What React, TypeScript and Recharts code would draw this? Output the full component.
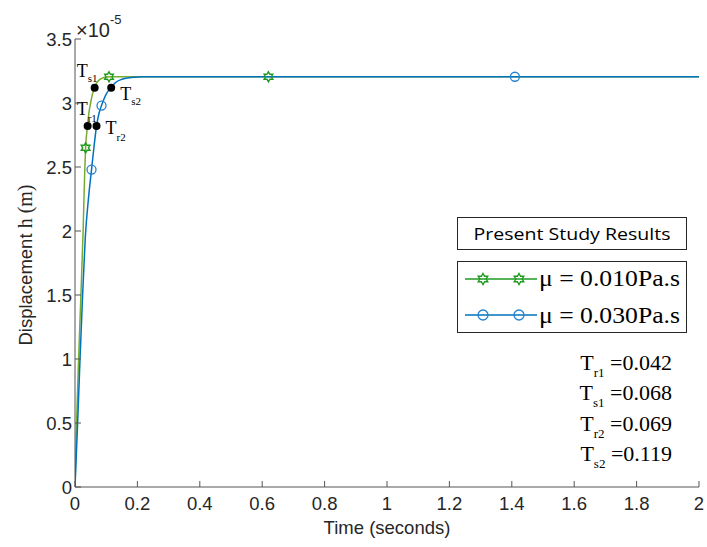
import React from 'react';
import { ComposedChart, Line, Scatter, XAxis, YAxis, Customized } from 'recharts';

// displacement in units of 1e-5 m, time in seconds
const timeLow = [0, 0.005, 0.0116, 0.019, 0.026, 0.031, 0.034, 0.04, 0.045, 0.05, 0.055, 0.062, 0.07, 0.08, 0.09, 0.1, 0.12, 0.15, 0.2, 2];
const dispLow = [0, 0.5, 1.0, 1.5, 2.0, 2.45, 2.65, 2.82, 2.93, 3.0, 3.06, 3.12, 3.16, 3.185, 3.197, 3.203, 3.205, 3.205, 3.205, 3.205];

const timeHigh = [0, 0.0084, 0.0161, 0.0244, 0.033, 0.043, 0.053, 0.061, 0.069, 0.077, 0.085, 0.1, 0.115, 0.13, 0.15, 0.18, 0.22, 0.3, 2];
const dispHigh = [0, 0.5, 1.0, 1.5, 1.95, 2.25, 2.48, 2.66, 2.82, 2.92, 2.98, 3.07, 3.12, 3.16, 3.185, 3.2, 3.205, 3.205, 3.205];

// marker positions along each curve
const starTimes = [0.034, 0.109, 0.62];
const starDisp = [2.65, 3.205, 3.205];
const circleTimes = [0.053, 0.085, 1.41];
const circleDisp = [2.48, 2.98, 3.205];

// rise / settling time points
const markNames = ['r1', 'r2', 's1', 's2'];
const markTimes = [0.0405, 0.069, 0.063, 0.116];
const markDisp = [2.82, 2.82, 3.12, 3.12];

const resultNames = ['r1', 's1', 'r2', 's2'];
const resultValues = ['0.042', '0.068', '0.069', '0.119'];

const xTicks = [0, 0.2, 0.4, 0.6, 0.8, 1, 1.2, 1.4, 1.6, 1.8, 2];
const yTicks = [0, 0.5, 1, 1.5, 2, 2.5, 3, 3.5];

const seriesNames = ['μ = 0.010Pa.s', 'μ = 0.030Pa.s'];

const zip = (t: number[], y: number[]) => t.map((v, i) => ({ t: v, y: y[i] }));
const lowData = zip(timeLow, dispLow);
const highData = zip(timeHigh, dispHigh);
const starData = zip(starTimes, starDisp);
const circleData = zip(circleTimes, circleDisp);
const markData = markTimes.map((v, i) => ({ t: v, y: markDisp[i], name: markNames[i] }));

const AXIS = '#555';
const INK = '#262626';
const GREEN = '#77AC30';
const STAR = '#1f9a1f';
const BLUE = '#0072BD';
const CIRCLE = '#2382d2';
const SANS = 'Liberation Sans, Arial, sans-serif';
const SERIF = 'Liberation Serif, Times New Roman, serif';

// label placement around the black dots: [dx of T, dy of T baseline, sub dy]
const labelOffsets: Record<string, [number, number, number]> = {
  r1: [-11, -11, 7],
  r2: [9, 8, 7],
  s1: [-18, -11, 5],
  s2: [9, 12, 5],
};

function Hexagram({ cx, cy, r = 5, color = STAR }: any) {
  const pts = [];
  for (let k = 0; k < 12; k++) {
    const a = (-90 + k * 30) * Math.PI / 180;
    const rad = k % 2 === 0 ? r : r * 0.58;
    pts.push(`${cx + rad * Math.cos(a)},${cy + rad * Math.sin(a)}`);
  }
  return <polygon points={pts.join(' ')} fill="none" stroke={color} strokeWidth={1.4} />;
}

function OpenCircle({ cx, cy, r = 4.5 }: any) {
  return <circle cx={cx} cy={cy} r={r} fill="none" stroke={CIRCLE} strokeWidth={1.3} />;
}

function MarkDot({ cx, cy, payload }: any) {
  const [dx, dy, sub] = labelOffsets[payload.name];
  return (
    <g>
      <circle cx={cx} cy={cy} r={4} fill="#000" />
      <text x={cx + dx} y={cy + dy} fontFamily={SERIF} fontSize={18} fill="#000">
        T<tspan fontSize={11} dy={sub}>{payload.name}</tspan>
      </text>
    </g>
  );
}

const fmt = (v: number) => String(v);

function BottomTick({ x, y, payload }: any) {
  return (
    <g>
      <line x1={x} x2={x} y1={y} y2={y - 6} stroke={AXIS} />
      <text x={x} y={y + 23} textAnchor="middle" fontFamily={SANS} fontSize={18.5} fill={INK}>{fmt(payload.value)}</text>
    </g>
  );
}

function TopTick({ x, y }: any) {
  return <line x1={x} x2={x} y1={y} y2={y + 6} stroke={AXIS} />;
}

function LeftTick({ x, y, payload }: any) {
  return (
    <g>
      <line x1={x} x2={x + 6} y1={y} y2={y} stroke={AXIS} />
      <text x={x - 3} y={y + 6.5} textAnchor="end" fontFamily={SANS} fontSize={18.5} fill={INK}>{fmt(payload.value)}</text>
    </g>
  );
}

function RightTick({ x, y }: any) {
  return <line x1={x} x2={x - 6} y1={y} y2={y} stroke={AXIS} />;
}

function Overlay() {
  return (
    <g>
      {/* exponent */}
      <text x={76} y={37} fontFamily={SANS} fontSize={20} fill={INK}>
        ×10<tspan fontSize={13} dy={-13}>-5</tspan>
      </text>
      {/* axis titles */}
      <text transform="translate(32,265) rotate(-90)" textAnchor="middle" fontFamily={SANS} fontSize={18.5} fill={INK}>
        Displacement  <tspan fontFamily={SERIF} fontSize={20}>h (m)</tspan>
      </text>
      <text x={387} y={534} textAnchor="middle" fontFamily={SANS} fontSize={18.5} fill={INK}>Time (seconds)</text>

      {/* legend */}
      <rect x={457.5} y={217.5} width={229} height={32} fill="#fff" stroke={INK} />
      <text x={572} y={240} textAnchor="middle" fontFamily="Open Sans, sans-serif" fontSize={16.5} fill="#000"
        textLength={197} lengthAdjust="spacingAndGlyphs">Present Study Results</text>
      <rect x={457.5} y={261.5} width={229} height={71} fill="#fff" stroke={INK} />
      <line x1={465} x2={537} y1={279} y2={279} stroke={STAR} strokeWidth={1.3} />
      <Hexagram cx={483} cy={279} r={5.5} />
      <Hexagram cx={519} cy={279} r={5.5} />
      <text x={539} y={286} fontFamily={SERIF} fontSize={23} fill="#000" textLength={141} lengthAdjust="spacingAndGlyphs">{seriesNames[0]}</text>
      <line x1={465} x2={537} y1={315} y2={315} stroke={BLUE} strokeWidth={1.3} />
      <OpenCircle cx={483} cy={315} r={5} />
      <OpenCircle cx={519} cy={315} r={5} />
      <text x={539} y={323} fontFamily={SERIF} fontSize={23} fill="#000" textLength={141} lengthAdjust="spacingAndGlyphs">{seriesNames[1]}</text>

      {/* rise / settling times */}
      {resultNames.map((n, i) => (
        <text key={n} x={672} y={370 + i * 30.3} textAnchor="end" fontFamily={SERIF} fontSize={22} fill="#000">
          T<tspan fontSize={13} dy={7}>{n}</tspan><tspan dy={-7}> =</tspan>{resultValues[i]}
        </text>
      ))}
    </g>
  );
}

export default function App() {
  return (
    <div style={{ position: 'absolute', left: 0, top: 0, width: 707, height: 547, background: '#fff' }}>
      <ComposedChart width={707} height={547} margin={{ top: 39, right: 8, bottom: 0, left: 0 }}>
        <XAxis dataKey="t" type="number" domain={[0, 2]} ticks={xTicks} allowDataOverflow
          height={60} tickSize={0} tickMargin={0} stroke={AXIS} tick={<BottomTick />} />
        <XAxis xAxisId="top" orientation="top" dataKey="t" type="number" domain={[0, 2]} ticks={xTicks} allowDataOverflow
          height={0} tickSize={0} tickMargin={0} stroke={AXIS} tick={<TopTick />} />
        <YAxis dataKey="y" type="number" domain={[0, 3.5]} ticks={yTicks} allowDataOverflow
          width={75} tickSize={0} tickMargin={0} stroke={AXIS} tick={<LeftTick />} />
        <YAxis yAxisId="right" orientation="right" dataKey="y" type="number" domain={[0, 3.5]} ticks={yTicks} allowDataOverflow
          width={0} tickSize={0} tickMargin={0} stroke={AXIS} tick={<RightTick />} />

        <Line data={lowData} dataKey="y" type="monotone" stroke={GREEN} strokeWidth={1.5} dot={false} isAnimationActive={false} />
        <Line data={highData} dataKey="y" type="monotone" stroke={BLUE} strokeWidth={1.5} dot={false} isAnimationActive={false} />
        <Scatter data={starData} dataKey="y" shape={<Hexagram />} isAnimationActive={false} />
        <Scatter data={circleData} dataKey="y" shape={<OpenCircle />} isAnimationActive={false} />
        <Scatter data={markData} dataKey="y" shape={<MarkDot />} isAnimationActive={false} />
        <Customized component={<Overlay />} />
      </ComposedChart>
    </div>
  );
}
